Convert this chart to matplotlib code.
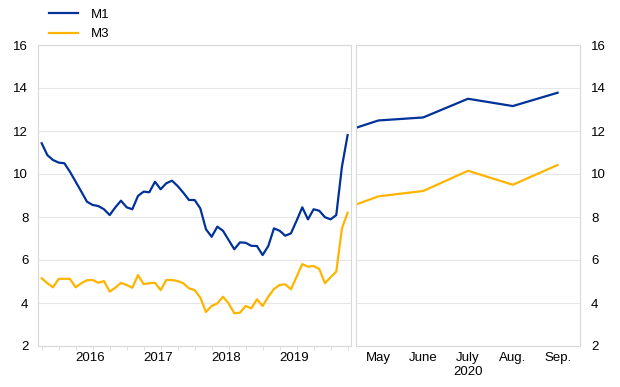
import matplotlib
matplotlib.use("Agg")
import matplotlib.pyplot as plt
import numpy as np

plt.rcParams['font.family'] = ['Liberation Sans', 'DejaVu Sans']

# Monthly data Oct 2015 - Apr 2020 (annual growth rates, %)
m1_monthly = [11.43, 10.88, 10.65, 10.53, 10.50, 10.10, 9.64, 9.18, 8.71, 8.56,
              8.51, 8.36, 8.09, 8.45, 8.76, 8.45, 8.36, 8.98, 9.18, 9.15,
              9.64, 9.29, 9.57, 9.69, 9.44, 9.13, 8.79, 8.79, 8.40, 7.43,
              7.08, 7.55, 7.36, 6.93, 6.50, 6.82, 6.80, 6.66, 6.65, 6.23,
              6.65, 7.47, 7.36, 7.13, 7.24, 7.83, 8.45, 7.89, 8.36, 8.29,
              7.99, 7.89, 8.09, 10.34, 11.81]
m3_monthly = [5.15, 4.92, 4.73, 5.12, 5.13, 5.12, 4.73, 4.92, 5.06, 5.07,
              4.94, 5.02, 4.53, 4.71, 4.94, 4.84, 4.71, 5.30, 4.88, 4.92,
              4.94, 4.60, 5.07, 5.07, 5.02, 4.92, 4.68, 4.60, 4.25, 3.58,
              3.86, 3.98, 4.29, 3.98, 3.52, 3.55, 3.86, 3.75, 4.17, 3.86,
              4.29, 4.65, 4.84, 4.87, 4.64, 5.22, 5.81, 5.69, 5.72, 5.58,
              4.92, 5.20, 5.46, 7.47, 8.20]
year_labels = ['2016', '2017', '2018', '2019']

# 2020 panel (first value at the panel's left edge, then May-Sep)
m1_2020 = [12.15, 12.49, 12.63, 13.50, 13.16, 13.78]
m3_2020 = [8.58, 8.96, 9.21, 10.15, 9.50, 10.42]
month_labels = ['May', 'June', 'July', 'Aug.', 'Sep.']

blue = '#003299'
yellow = '#FFB400'
grid_c = '#e6e6e6'
spine_c = '#d9d9d9'
fs = 9.5

fig = plt.figure(figsize=(6.2, 3.87), dpi=100)
ax1 = fig.add_axes([38/620, 1-346/387, 313/620, 301/387])
ax2 = fig.add_axes([356/620, 1-346/387, 224/620, 301/387])

x1 = np.arange(len(m1_monthly))
l1, = ax1.plot(x1, m1_monthly, color=blue, lw=1.6, label='M1')
l2, = ax1.plot(x1, m3_monthly, color=yellow, lw=1.6, label='M3')
ax1.set_xlim(-0.65, len(m1_monthly) - 0.4)

x2 = np.concatenate([[-0.5], np.arange(len(month_labels))])
ax2.plot(x2, m1_2020, color=blue, lw=1.6)
ax2.plot(x2, m3_2020, color=yellow, lw=1.6)
ax2.set_xlim(-0.5, 4.5)

for ax in (ax1, ax2):
    ax.set_ylim(2, 16)
    ax.set_yticks(range(2, 17, 2))
    ax.grid(axis='y', color=grid_c, lw=0.8)
    ax.set_axisbelow(True)
    for s in ax.spines.values():
        s.set_color(spine_c)
        s.set_linewidth(0.8)
    ax.tick_params(axis='both', labelsize=fs, colors='black', length=0)

ax1.tick_params(axis='y', pad=7)
ax2.yaxis.tick_right()
ax2.tick_params(axis='y', pad=8)
ax2.tick_params(axis='y', labelleft=False, labelright=True)

# left x axis: year labels at mid-year, quarterly minor ticks
ax1.set_xticks([8.6 + 12 * i for i in range(len(year_labels))])
ax1.set_xticklabels(year_labels)
ax1.set_xticks(np.arange(0, len(m1_monthly), 3), minor=True)
ax1.tick_params(axis='x', which='minor', length=3, color=spine_c, width=0.6)
ax1.tick_params(axis='x', which='major', pad=4)

ax2.set_xticks(range(len(month_labels)))
ax2.set_xticklabels(month_labels)
ax2.tick_params(axis='x', pad=4)
ax2.text(2, -0.066, '2020', transform=ax2.get_xaxis_transform(),
         ha='center', va='top', fontsize=fs)

fig.legend(handles=[l1, l2], loc='upper left', bbox_to_anchor=(40/620, 1.0),
           frameon=False, fontsize=fs, handlelength=2.2, handletextpad=1.0,
           labelspacing=0.55, borderaxespad=0.25)

fig.savefig('out.png', dpi=100)
